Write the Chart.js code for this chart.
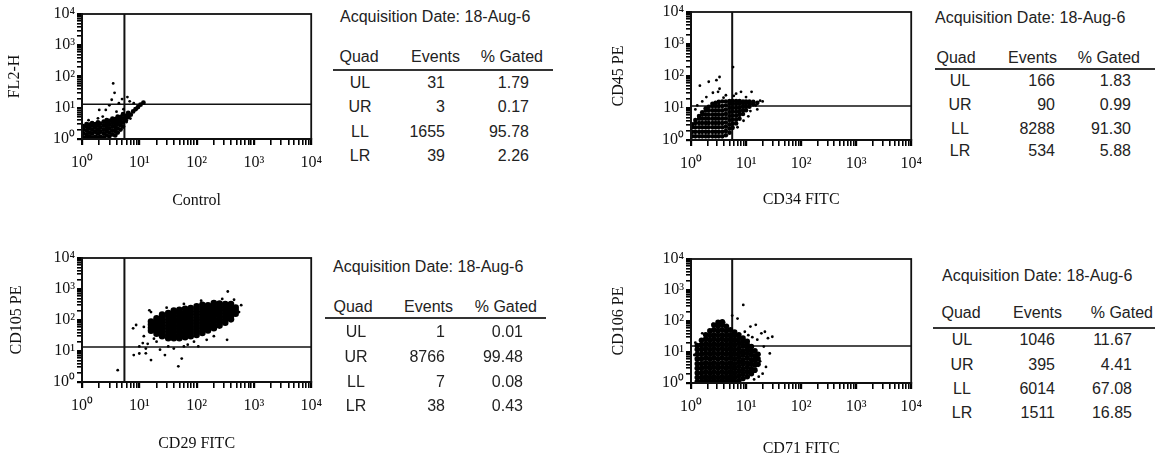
<!DOCTYPE html>
<html>
<head>
<meta charset="utf-8">
<title>Flow cytometry quadrants</title>
<script src="https://cdn.jsdelivr.net/npm/chart.js@4.4.1/dist/chart.umd.min.js"></script>
<style>
    body {
        margin: 0;
        background: #fff;
        width: 1163px;
        height: 458px;
        overflow: hidden;
        position: relative;
        font-family: "Liberation Sans", Arial, sans-serif;
        color: #222;
    }
    canvas { position: absolute; }
    .t {
        position: absolute;
        font-size: 16px;
        line-height: 1;
        white-space: nowrap;
        transform: translateY(-50%);
    }
    .t.c { transform: translate(-50%, -50%); }
    .rule { position: absolute; height: 2px; background: #333; }
</style>
</head>
<body>
<canvas id="c1" width="330" height="225" style="left:0;top:0"></canvas>
<canvas id="c2" width="330" height="225" style="left:600px;top:0"></canvas>
<canvas id="c3" width="330" height="218" style="left:0;top:240px"></canvas>
<canvas id="c4" width="330" height="218" style="left:600px;top:240px"></canvas>

<script>
// axis ticks (log scale, 4 decades)
const tickValues = [1, 2, 3, 4, 5, 6, 7, 8, 9, 10, 20, 30, 40, 50, 60, 70, 80, 90,
    100, 200, 300, 400, 500, 600, 700, 800, 900, 1000, 2000, 3000, 4000, 5000,
    6000, 7000, 8000, 9000, 10000];
const decadeValues = [1, 10, 100, 1000, 10000];
const decadeLabels = ['10⁰', '10¹', '10²', '10³', '10⁴'];

const quads = ['UL', 'UR', 'LL', 'LR'];
const acqText = 'Acquisition Date: 18-Aug-6';
const headers = ['Quad', 'Events', '% Gated'];

// --- Control (FL2-H) ---
const controlEvents = [31, 3, 1655, 39];
const controlGated = [1.79, 0.17, 95.78, 2.26];
const controlGate = [5.5, 13];
// [x, [y values]] read column by column from the dense cloud
const controlDense = [
    [1.05, [1.1, 1.5, 2.0, 2.6]],
    [1.2, [1.1, 1.4, 1.9, 2.5, 3.0]],
    [1.35, [1.2, 1.6, 2.2, 2.9]],
    [1.5, [1.1, 1.5, 2.0, 2.7, 3.2]],
    [1.7, [1.2, 1.7, 2.3, 3.0]],
    [1.9, [1.1, 1.5, 2.0, 2.7, 3.4]],
    [2.1, [1.2, 1.7, 2.3, 3.1]],
    [2.4, [1.1, 1.5, 2.0, 2.7, 3.6]],
    [2.7, [1.3, 1.8, 2.4, 3.2, 4.0]],
    [3.0, [1.2, 1.6, 2.2, 2.9, 3.8]],
    [3.4, [1.4, 1.9, 2.6, 3.5, 4.5]],
    [3.8, [1.3, 1.8, 2.4, 3.2, 4.3]],
    [4.2, [1.6, 2.2, 3.0, 4.0, 5.2]],
    [4.7, [2.0, 2.8, 3.7, 5.0]],
    [5.2, [2.5, 3.4, 4.6, 6.2]],
    [5.8, [4.0, 5.5]],
    [6.4, [5.0, 6.8]],
    [7.1, [6.0]],
    [7.8, [7.6]],
    [8.6, [9.0]],
    [9.5, [10.5]],
    [10.5, [12.5]],
    [11.8, [14.5]]
];
const controlSparse = [[3.5, 60], [3.7, 30], [2.6, 8.5], [2.0, 8.5], [1.9, 4.6], [5.0, 19],
    [6.2, 22], [6.8, 16], [3.0, 12], [4.4, 14], [8.0, 14], [1.3, 4.0], [2.3, 5.2], [4.0, 7.5],
    [7.0, 4.5], [6.0, 3.5], [5.3, 9], [3.3, 18]];

// --- CD34 FITC / CD45 PE ---
const cd34Events = [166, 90, 8288, 534];
const cd34Gated = [1.83, 0.99, 91.30, 5.88];
const cd34Gate = [5.6, 11.5];
const cd34Dense = [
    [1.05, [1.3, 1.8, 2.5, 3.1]],
    [1.2, [1.3, 1.8, 2.5, 3.4, 4.2]],
    [1.4, [1.3, 1.8, 2.5, 3.4, 4.6, 5.6]],
    [1.6, [1.3, 1.8, 2.5, 3.4, 4.6, 6.2, 7.4]],
    [1.85, [1.3, 1.8, 2.5, 3.4, 4.6, 6.2, 8.4, 9.8]],
    [2.1, [1.3, 1.8, 2.5, 3.4, 4.6, 6.2, 8.4, 11]],
    [2.45, [1.3, 1.8, 2.5, 3.4, 4.6, 6.2, 8.4, 11.5, 13.5]],
    [2.8, [1.3, 1.8, 2.5, 3.4, 4.6, 6.2, 8.4, 11.5, 14.5]],
    [3.2, [1.3, 1.8, 2.5, 3.4, 4.6, 6.2, 8.4, 11.5, 15.5]],
    [3.7, [1.3, 1.8, 2.5, 3.4, 4.6, 6.2, 8.4, 11.5, 16]],
    [4.3, [1.4, 1.9, 2.6, 3.5, 4.8, 6.5, 8.8, 12, 16]],
    [5.0, [1.7, 2.3, 3.1, 4.2, 5.6, 7.5, 10, 13.5, 16.5]],
    [5.7, [2.4, 3.2, 4.3, 5.7, 7.6, 10, 13.5, 16.5]],
    [6.6, [3.3, 4.4, 5.8, 7.6, 10, 13.5, 16.5]],
    [7.6, [4.6, 6.1, 8.0, 10.5, 14, 16.5]],
    [8.8, [6.5, 8.5, 11, 14, 16]],
    [10, [8.5, 11, 14, 16]],
    [11.5, [11, 14, 16]],
    [13.5, [13, 15.5]],
    [16, [14.5]]
];
const cd34Sparse = [[2.1, 66], [2.9, 74], [3.3, 93], [1.45, 50], [3.1, 32], [8.1, 32], [5.8, 190],
    [3.3, 40], [12.6, 32], [4.3, 25], [1.9, 22], [6.6, 28], [18, 17], [20, 16], [15, 12], [12, 8],
    [9, 4], [7, 2.5], [2.5, 30], [1.3, 12], [1.2, 9], [3.9, 21], [6, 24], [10, 22], [16, 9],
    [11, 5.5], [1.6, 16]];

// --- CD29 FITC / CD105 PE ---
const cd29Events = [1, 8766, 7, 38];
const cd29Gated = [0.01, 99.48, 0.08, 0.43];
const cd29Gate = [5.5, 13.5];
const cd29Dense = [
    [16, [45, 56, 71, 89]],
    [20, [36, 45, 57, 72, 90, 113]],
    [25, [30, 38, 48, 60, 76, 95, 120, 150]],
    [32, [26, 33, 42, 53, 66, 84, 106, 134, 168]],
    [40, [26, 33, 42, 53, 66, 84, 106, 134, 170, 200]],
    [50, [26, 33, 42, 53, 66, 84, 106, 134, 170, 215]],
    [63, [28, 35, 44, 56, 70, 89, 112, 141, 178, 230]],
    [79, [30, 38, 48, 60, 76, 95, 120, 152, 190, 245]],
    [100, [33, 42, 53, 66, 84, 106, 134, 168, 212, 275]],
    [126, [38, 48, 60, 76, 96, 121, 152, 192, 242, 310]],
    [158, [46, 58, 73, 92, 116, 146, 184, 232, 300]],
    [200, [54, 68, 86, 108, 136, 172, 216, 272, 350]],
    [251, [66, 83, 105, 132, 166, 210, 264, 340]],
    [316, [82, 103, 130, 164, 206, 260, 330]],
    [398, [105, 132, 166, 210, 264, 330]],
    [480, [160, 200, 250]]
];
const cd29Sparse = [[7.8, 54], [8.8, 69], [10, 14], [11.5, 18], [8, 7.4], [10, 8.3], [13, 8.4],
    [16, 5.1], [28, 7.4], [48, 3.2], [55, 5.7], [60, 14], [107, 14], [150, 23], [340, 23],
    [16, 180], [15, 205], [350, 830], [450, 450], [13, 12], [14, 17], [20, 20], [32, 14],
    [23, 11], [40, 12], [70, 16], [90, 20], [200, 30], [4.2, 2.4], [12, 60], [30, 250],
    [60, 330], [120, 420], [280, 480], [600, 300], [550, 180], [12, 30], [18, 25]];

// --- CD71 FITC / CD106 PE ---
const cd71Events = [1046, 395, 6014, 1511];
const cd71Gated = [11.67, 4.41, 67.08, 16.85];
const cd71Gate = [5.6, 15.6];
const cd71Dense = [
    [1.3, [1.1, 1.5, 2.1, 3.0, 4.2, 6.0, 8.5, 12, 16]],
    [1.55, [1.1, 1.5, 2.1, 3.0, 4.2, 6.0, 8.5, 12, 17, 24]],
    [1.85, [1.2, 1.6, 2.3, 3.2, 4.5, 6.4, 9, 13, 18, 26, 36]],
    [2.2, [1.1, 1.5, 2.1, 3.0, 4.2, 6.0, 8.5, 12, 17, 24, 34, 48]],
    [2.6, [1.2, 1.6, 2.3, 3.2, 4.5, 6.4, 9, 13, 18, 26, 36, 52, 74]],
    [3.1, [1.1, 1.5, 2.1, 3.0, 4.2, 6.0, 8.5, 12, 17, 24, 34, 48, 68, 90]],
    [3.7, [1.2, 1.6, 2.3, 3.2, 4.5, 6.4, 9, 13, 18, 26, 36, 52, 75, 95]],
    [4.4, [1.1, 1.5, 2.1, 3.0, 4.2, 6.0, 8.5, 12, 17, 24, 34, 48, 68]],
    [5.2, [1.2, 1.6, 2.3, 3.2, 4.5, 6.4, 9, 13, 18, 26, 36, 52]],
    [6.2, [1.1, 1.5, 2.1, 3.0, 4.2, 6.0, 8.5, 12, 17, 24, 34, 44]],
    [7.4, [1.2, 1.7, 2.4, 3.4, 4.8, 6.8, 9.5, 13, 19, 27, 36]],
    [8.8, [1.4, 2.0, 2.8, 4.0, 5.6, 8.0, 11, 16, 22, 28]],
    [10.5, [1.6, 2.3, 3.2, 4.5, 6.4, 9, 12.5, 17, 22]],
    [12.5, [2.0, 2.8, 4.0, 5.6, 8.0, 11, 15]],
    [14.5, [2.6, 3.8, 5.4, 7.6, 11]],
    [16.5, [4.0, 6.0, 8.5]]
];
const cd71Sparse = [[8.9, 330], [12, 66], [15, 75], [25, 28], [30, 31], [21, 15], [23, 3.3],
    [20, 2.0], [17, 1.6], [27, 9], [19, 40], [16, 25], [11, 35], [7, 120], [5.6, 150], [4, 90],
    [2.5, 80], [1.6, 40], [1.2, 20], [1.15, 8], [18, 5], [14, 1.3], [13, 30], [9.5, 45], [22, 45]];

// draws the box around the plot area
const framePlugin = {
    id: 'frame',
    afterDatasetsDraw(chart) {
        const ctx = chart.ctx;
        const a = chart.chartArea;
        ctx.save();
        ctx.strokeStyle = '#111';
        ctx.lineWidth = 1.8;
        ctx.strokeRect(a.left, a.top, a.right - a.left, a.bottom - a.top);
        ctx.restore();
    }
};

function buildPoints(columns) {
    const pts = [];
    columns.forEach(function(col) {
        col[1].forEach(function(y) {
            pts.push({ x: col[0], y: y });
        });
    });
    return pts;
}

function tickLabel(value) {
    const i = decadeValues.indexOf(value);
    return i >= 0 ? decadeLabels[i] : '';
}

function isDecade(ctx) {
    return ctx.tick && decadeValues.indexOf(ctx.tick.value) >= 0;
}

function scatterPanel(p) {
    new Chart(document.getElementById(p.id), {
        type: 'scatter',
        data: {
            datasets: [{
                data: buildPoints(p.dense),
                backgroundColor: '#000',
                borderWidth: 0,
                pointRadius: p.denseR
            }, {
                data: p.sparse.map(function(s) { return { x: s[0], y: s[1] }; }),
                backgroundColor: '#000',
                borderWidth: 0,
                pointRadius: 1.4
            }, {
                data: [{ x: p.gate[0], y: 1 }, { x: p.gate[0], y: 10000 }],
                showLine: true,
                borderColor: '#111',
                borderWidth: 2,
                pointRadius: 0
            }, {
                data: [{ x: 1, y: p.gate[1] }, { x: 10000, y: p.gate[1] }],
                showLine: true,
                borderColor: '#111',
                borderWidth: 1.6,
                pointRadius: 0
            }]
        },
        options: {
            responsive: false,
            animation: false,
            layout: { padding: { top: p.padTop, right: 15, left: 0, bottom: 0 } },
            plugins: {
                legend: { display: false },
                tooltip: { enabled: false }
            },
            scales: {
                x: {
                    type: 'logarithmic',
                    min: 1,
                    max: 10000,
                    afterBuildTicks: function(axis) {
                        axis.ticks = tickValues.map(function(v) { return { value: v }; });
                    },
                    afterFit: function(axis) { axis.height = p.xAxisH; },
                    ticks: {
                        autoSkip: false,
                        maxRotation: 0,
                        padding: 8,
                        color: '#111',
                        font: { size: 16 },
                        callback: tickLabel
                    },
                    grid: {
                        drawOnChartArea: false,
                        tickLength: 6,
                        color: '#000',
                        lineWidth: function(ctx) { return isDecade(ctx) ? 2.2 : 1.6; }
                    },
                    border: { color: '#000', width: 2 },
                    title: {
                        display: true,
                        text: p.xTitle,
                        color: '#111',
                        font: { size: 16 },
                        padding: { top: 0, bottom: p.xTitlePad }
                    }
                },
                y: {
                    type: 'logarithmic',
                    min: 1,
                    max: 10000,
                    afterBuildTicks: function(axis) {
                        axis.ticks = tickValues.map(function(v) { return { value: v }; });
                    },
                    afterFit: function(axis) { axis.width = p.yAxisW; },
                    ticks: {
                        autoSkip: false,
                        padding: 2,
                        color: '#111',
                        font: { size: 16 },
                        callback: tickLabel
                    },
                    grid: {
                        drawOnChartArea: false,
                        tickLength: 5,
                        color: '#000',
                        lineWidth: function(ctx) { return isDecade(ctx) ? 2.2 : 1.6; }
                    },
                    border: { color: '#000', width: 2 },
                    title: {
                        display: true,
                        text: p.yTitle,
                        color: '#111',
                        font: { size: 16 },
                        padding: { top: p.yTitlePad, bottom: 0 }
                    }
                }
            }
        },
        plugins: [framePlugin]
    });
}

function addText(str, x, y, align) {
    const el = document.createElement('div');
    el.className = 't';
    el.textContent = str;
    if (align === 'right') {
        el.style.right = (1163 - x) + 'px';
    } else if (align === 'center') {
        el.classList.add('c');
        el.style.left = x + 'px';
    } else {
        el.style.left = x + 'px';
    }
    el.style.top = y + 'px';
    document.body.appendChild(el);
}

function quadTable(t, events, gated) {
    addText(acqText, t.titleX, t.titleY, 'left');
    addText(headers[0], t.headQuadX, t.headY, 'center');
    addText(headers[1], t.headEventsX, t.headY, 'right');
    addText(headers[2], t.headGatedX, t.headY, 'right');
    const rule = document.createElement('div');
    rule.className = 'rule';
    rule.style.left = t.ruleX1 + 'px';
    rule.style.width = (t.ruleX2 - t.ruleX1) + 'px';
    rule.style.top = (t.ruleY - 1) + 'px';
    document.body.appendChild(rule);
    quads.forEach(function(q, i) {
        addText(q, t.quadX, t.rowY[i], 'center');
        addText(String(events[i]), t.eventsX, t.rowY[i], 'right');
        addText(gated[i].toFixed(2), t.gatedX, t.rowY[i], 'right');
    });
}

Chart.defaults.font.family = '"Liberation Serif", "Times New Roman", serif';

scatterPanel({ id: 'c1', dense: controlDense, sparse: controlSparse, gate: controlGate,
    denseR: 2.4, padTop: 14, xAxisH: 86, yAxisW: 82, xTitlePad: 15, yTitlePad: 5,
    xTitle: 'Control', yTitle: 'FL2-H' });
scatterPanel({ id: 'c2', dense: cd34Dense, sparse: cd34Sparse, gate: cd34Gate,
    denseR: 2.3, padTop: 12, xAxisH: 85, yAxisW: 91, xTitlePad: 16, yTitlePad: 9,
    xTitle: 'CD34 FITC', yTitle: 'CD45 PE' });
scatterPanel({ id: 'c3', dense: cd29Dense, sparse: cd29Sparse, gate: cd29Gate,
    denseR: 3.3, padTop: 18, xAxisH: 76, yAxisW: 82, xTitlePad: 5, yTitlePad: 7,
    xTitle: 'CD29 FITC', yTitle: 'CD105 PE' });
scatterPanel({ id: 'c4', dense: cd71Dense, sparse: cd71Sparse, gate: cd71Gate,
    denseR: 2.8, padTop: 19, xAxisH: 75, yAxisW: 91, xTitlePad: 0, yTitlePad: 9,
    xTitle: 'CD71 FITC', yTitle: 'CD106 PE' });

quadTable({ titleX: 340, titleY: 17, headY: 57, headQuadX: 359, headEventsX: 460, headGatedX: 543,
    ruleX1: 333, ruleX2: 553, ruleY: 70, quadX: 360, eventsX: 445, gatedX: 529,
    rowY: [83, 107, 132, 156] }, controlEvents, controlGated);
quadTable({ titleX: 935, titleY: 18, headY: 58, headQuadX: 956, headEventsX: 1057, headGatedX: 1140,
    ruleX1: 935, ruleX2: 1155, ruleY: 69, quadX: 960, eventsX: 1055, gatedX: 1131,
    rowY: [81, 105, 129, 151] }, cd34Events, cd34Gated);
quadTable({ titleX: 333, titleY: 267, headY: 307, headQuadX: 353, headEventsX: 453, headGatedX: 537,
    ruleX1: 325, ruleX2: 546, ruleY: 318, quadX: 356, eventsX: 445, gatedX: 523,
    rowY: [332, 357, 382, 406] }, cd29Events, cd29Gated);
quadTable({ titleX: 942, titleY: 276, headY: 313, headQuadX: 961, headEventsX: 1062, headGatedX: 1153,
    ruleX1: 933, ruleX2: 1155, ruleY: 328, quadX: 962, eventsX: 1055, gatedX: 1132,
    rowY: [340, 365, 389, 413] }, cd71Events, cd71Gated);
</script>
</body>
</html>
